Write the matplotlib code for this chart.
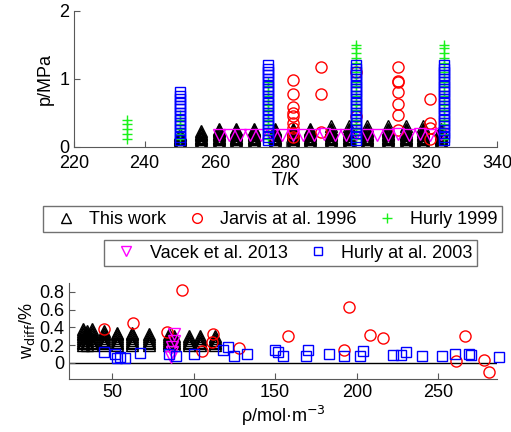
import numpy as np
import matplotlib.pyplot as plt
from matplotlib.lines import Line2D

plt.rcParams['font.family'] = ['Liberation Sans', 'DejaVu Sans']

# ---- top panel: p(T) ----
# this work: temperatures, pressure levels, max pressure per temperature
this_T = [250, 256, 261, 266, 271, 277, 282, 287, 293, 298, 303, 309, 314, 319, 324]
this_pmax = [0.20, 0.24, 0.27, 0.27, 0.28, 0.28, 0.28, 0.28, 0.30, 0.30, 0.30, 0.30, 0.30, 0.30, 0.28]
this_levels = [0.03, 0.05, 0.07, 0.09, 0.11, 0.13, 0.15, 0.17, 0.19, 0.21, 0.23,
               0.25, 0.27, 0.30]

# Jarvis et al. 1996
jar_T = [282, 282, 282, 282, 282, 282, 282, 282, 282,
         290, 290, 290, 300, 300,
         312, 312, 312, 312, 312, 312, 312,
         321, 321, 321, 321]
jar_p = [0.15, 0.20, 0.28, 0.35, 0.45, 0.50, 0.58, 0.77, 0.98,
         0.22, 0.78, 1.18, 0.45, 1.10,
         0.25, 0.47, 0.63, 0.80, 0.95, 0.97, 1.17,
         0.12, 0.28, 0.35, 0.70]

# Hurly 1999
h99_T = [235, 250, 275, 300, 325]
h99_pmax = [0.40, 0.50, 1.00, 1.50, 1.50]
h99_levels = [0.12, 0.19, 0.26, 0.33, 0.40, 0.47, 0.54, 0.61, 0.68, 0.75, 0.82,
              0.89, 0.96, 1.03, 1.10, 1.17, 1.24, 1.31, 1.38, 1.45, 1.50]

# Vacek et al. 2013
vac_T = [261, 264, 267, 270, 273, 276, 279, 282, 285, 288, 291, 294, 297, 300,
         303, 306, 309, 312, 315, 318, 321, 324]
vac_p = [0.17, 0.18, 0.17, 0.18, 0.17, 0.18, 0.18, 0.17, 0.18, 0.17, 0.19, 0.18,
         0.17, 0.19, 0.18, 0.17, 0.18, 0.19, 0.18, 0.19, 0.18, 0.19]

# Hurly at al. 2003
h03_T = [250, 275, 300, 325]
h03_pmax = [0.80, 1.20, 1.20, 1.20]
h03_levels = [0.10, 0.15, 0.20, 0.25, 0.30, 0.35, 0.40, 0.45, 0.50, 0.55, 0.60,
              0.65, 0.70, 0.75, 0.80, 0.85, 0.90, 0.95, 1.00, 1.05, 1.10, 1.15, 1.20]

# ---- bottom panel: w_diff(rho) ----
this_rho = [32, 35, 38, 45, 53, 62, 73, 85, 88, 97, 104, 113]
this_wmax = [0.38, 0.37, 0.38, 0.36, 0.35, 0.34, 0.33, 0.32, 0.31, 0.31, 0.30, 0.31]
this_wlevels = [0.20, 0.22, 0.24, 0.26, 0.28, 0.30, 0.32, 0.34, 0.36, 0.38]

jar_rho = [45, 63, 84, 93, 105, 111, 112, 128, 158, 192, 195, 208, 216, 261, 266, 278, 281]
jar_w = [0.38, 0.45, 0.35, 0.82, 0.13, 0.24, 0.33, 0.17, 0.30, 0.14, 0.63, 0.31,
         0.28, 0.02, 0.30, 0.03, -0.10]

vac_rho = [86, 87, 87, 88, 88]
vac_w = [0.07, 0.12, 0.18, 0.25, 0.32]

h03_rho = [45, 52, 53, 55, 58, 67, 85, 89, 100, 118, 121, 125, 133, 150, 152, 155,
           169, 170, 183, 192, 202, 204, 222, 227, 230, 240, 252, 260, 269, 270, 287]
h03_w = [0.12, 0.10, 0.06, 0.07, 0.06, 0.11, 0.10, 0.08, 0.10, 0.15, 0.18, 0.08,
         0.10, 0.15, 0.12, 0.08, 0.08, 0.15, 0.10, 0.08, 0.08, 0.13, 0.09, 0.09,
         0.12, 0.08, 0.08, 0.10, 0.10, 0.09, 0.07]


def expand(xs, tops, levels):
    xx, yy = [], []
    for x, t in zip(xs, tops):
        for lv in levels:
            if lv <= t + 1e-9:
                xx.append(x)
                yy.append(lv)
    return xx, yy


RED = (1, 0, 0)
GREEN = (0.1, 0.95, 0.1)
MAG = (1, 0, 1)
BLUE = (0, 0, 1)

fig = plt.figure(figsize=(5.11, 4.32), dpi=100)

ax1 = fig.add_axes([0.145, 0.66, 0.828, 0.315])
x, y = expand(this_T, this_pmax, this_levels)
ax1.plot(x, y, '^', ms=9, mfc='none', mec='k', mew=1.0)
ax1.plot(jar_T, jar_p, 'o', ms=8, mfc='none', mec=RED, mew=1.0)
x, y = expand(h99_T, h99_pmax, h99_levels)
ax1.plot(x, y, '+', ms=7, mec=GREEN, mew=1.0)
ax1.plot(vac_T, vac_p, 'v', ms=9, mfc='none', mec=MAG, mew=1.0)
x, y = expand(h03_T, h03_pmax, h03_levels)
ax1.plot(x, y, 's', ms=7, mfc='none', mec=BLUE, mew=1.0)
ax1.set_xlim(220, 340)
ax1.set_ylim(0, 2)
ax1.set_xticks([220, 240, 260, 280, 300, 320, 340])
ax1.set_yticks([0, 1, 2])
ax1.set_xlabel('T/K', fontsize=13, labelpad=0)
ax1.set_ylabel('p/MPa', fontsize=13, labelpad=4)

ax2 = fig.add_axes([0.136, 0.123, 0.837, 0.222])
ax2.axhline(0, color='k', lw=1.0, zorder=1)
x, y = expand(this_rho, this_wmax, this_wlevels)
ax2.plot(x, y, '^', ms=9, mfc='none', mec='k', mew=1.0)
ax2.plot(jar_rho, jar_w, 'o', ms=8, mfc='none', mec=RED, mew=1.0, clip_on=False)
ax2.plot(vac_rho, vac_w, 'v', ms=9, mfc='none', mec=MAG, mew=1.0)
ax2.plot(h03_rho, h03_w, 's', ms=6.5, mfc='none', mec=BLUE, mew=1.0, clip_on=False)
ax2.set_xlim(24, 286)
ax2.set_ylim(-0.18, 0.9)
ax2.set_xticks([50, 100, 150, 200, 250])
ax2.set_yticks([0, 0.2, 0.4, 0.6, 0.8])
ax2.set_yticklabels(['0', '0.2', '0.4', '0.6', '0.8'])
ax2.set_xlabel(r'ρ/mol·m$^{-3}$', fontsize=13, labelpad=2)
ax2.set_ylabel(r'w$_{\mathrm{diff}}$/%', fontsize=13, labelpad=2)

for ax in (ax1, ax2):
    ax.spines['top'].set_visible(False)
    ax.spines['right'].set_visible(False)
    for s in ('left', 'bottom'):
        ax.spines[s].set_color('0.35')
    ax.tick_params(direction='in', length=4, labelsize=13, color='0.35')
ax1.tick_params(axis='x', pad=6)

# legends
def handle(marker, color, ms):
    kw = dict(marker=marker, ls='none', ms=ms, mew=1.0)
    if marker == '+':
        kw['color'] = color
    else:
        kw.update(mfc='none', mec=color)
    return Line2D([], [], **kw)

h1 = [handle('^', 'k', 7), handle('o', RED, 7), handle('+', GREEN, 7)]
l1 = ['This work', 'Jarvis at al. 1996', 'Hurly 1999']
h2 = [handle('v', MAG, 7), handle('s', BLUE, 6)]
l2 = ['Vacek et al. 2013', 'Hurly at al. 2003']

leg_kw = dict(loc='center', fontsize=13, frameon=True, fancybox=False,
              edgecolor='0.3', handlelength=2.0, handletextpad=0.3,
              columnspacing=0.67, borderpad=0.25, borderaxespad=0)
leg1 = fig.legend(h1, l1, ncol=3, bbox_to_anchor=(0.534, 0.492), **leg_kw)
leg2 = fig.legend(h2, l2, ncol=2, bbox_to_anchor=(0.5685, 0.414), **leg_kw)
for lg in (leg1, leg2):
    lg.get_frame().set_linewidth(1.0)

fig.savefig('out.png', dpi=100)
